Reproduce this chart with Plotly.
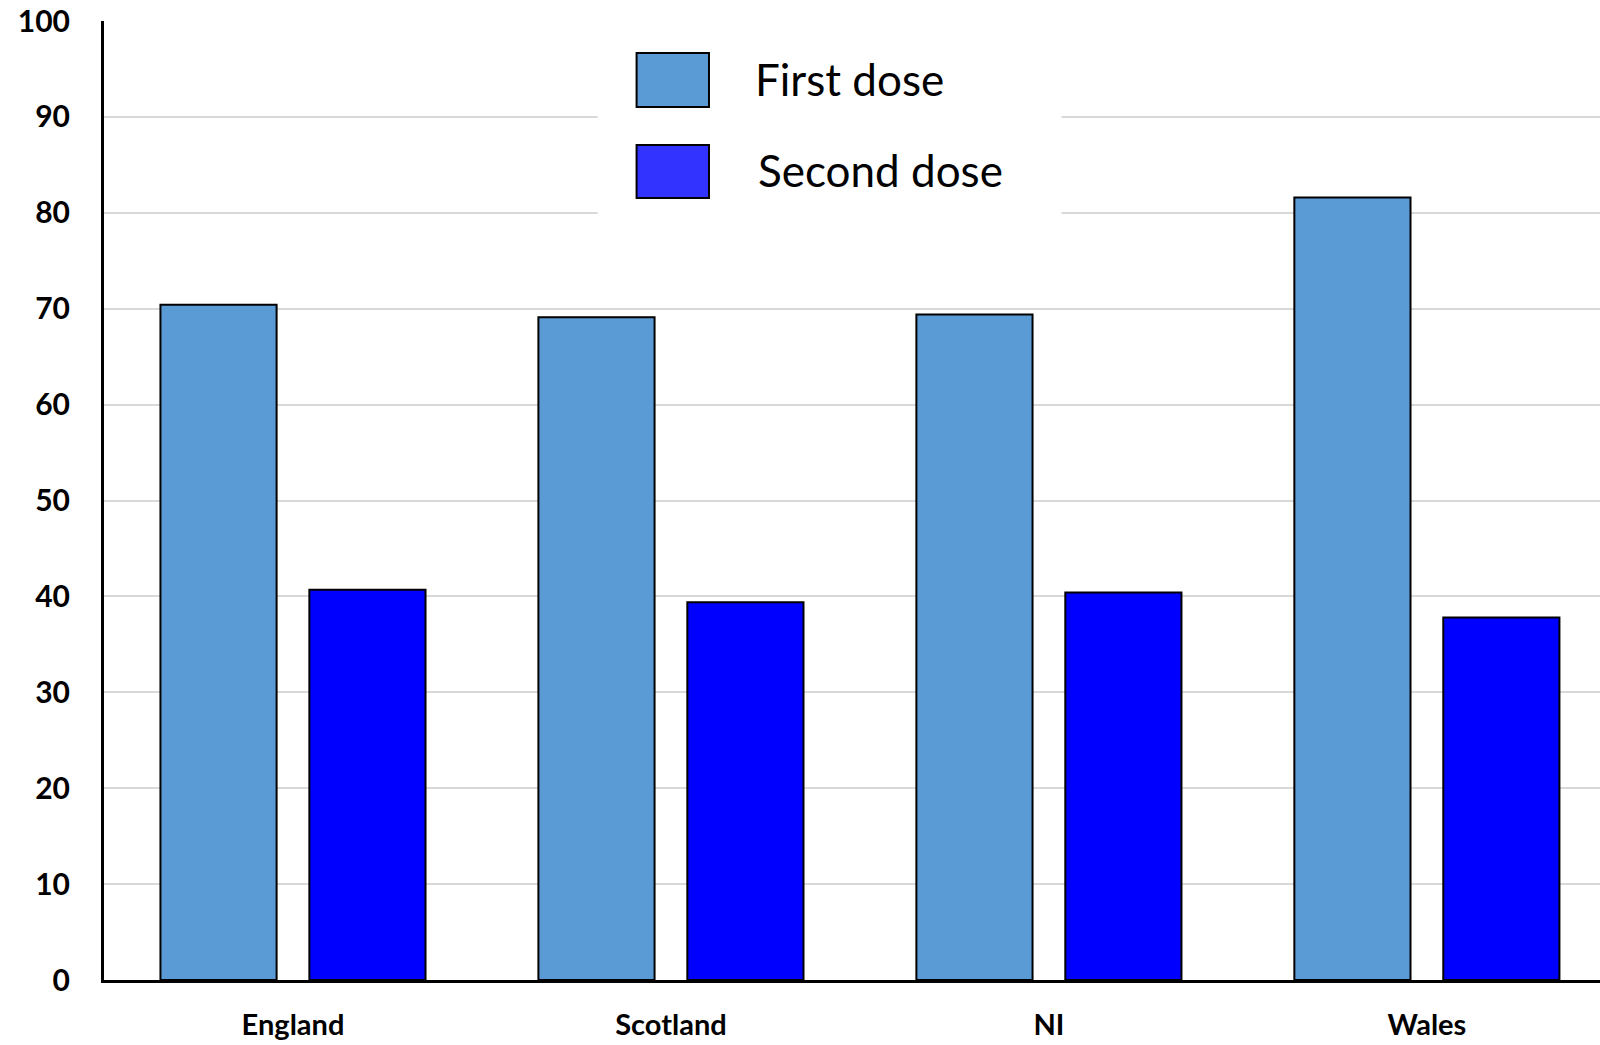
import plotly.graph_objects as go

# dados
paises = ["England", "Scotland", "NI", "Wales"]
primeira_dose = [70.4, 69.1, 69.4, 81.6]
segunda_dose = [40.7, 39.4, 40.4, 37.8]
y_ticks = [0, 10, 20, 30, 40, 50, 60, 70, 80, 90, 100]

cor1 = "#5b9bd5"
cor2 = "#0000ff"

fig = go.Figure()
fig.add_trace(go.Bar(x=paises, y=primeira_dose, name="First dose",
                     marker=dict(color=cor1, line=dict(color="black", width=2))))
fig.add_trace(go.Bar(x=paises, y=segunda_dose, name="Second dose",
                     marker=dict(color=cor2, line=dict(color="black", width=2))))

# legenda desenhada à mão (caixas grandes como no original)
shapes = [
    dict(type="rect", xref="paper", yref="paper", x0=0.330, x1=0.640, y0=0.795, y1=1.03,
         fillcolor="white", line=dict(width=0), layer="above"),
    dict(type="rect", xref="paper", yref="paper", x0=0.356, x1=0.4044, y0=0.9103, y1=0.9666,
         fillcolor=cor1, line=dict(color="black", width=2), layer="above"),
    dict(type="rect", xref="paper", yref="paper", x0=0.356, x1=0.4044, y0=0.8154, y1=0.8707,
         fillcolor="#3333ff", line=dict(color="black", width=2), layer="above"),
]
annotations = [
    dict(text="First dose", xref="paper", yref="paper", x=0.4338, y=0.939,
         xanchor="left", yanchor="middle", showarrow=False,
         font=dict(family="Lato", size=44, color="black")),
    dict(text="Second dose", xref="paper", yref="paper", x=0.4358, y=0.845,
         xanchor="left", yanchor="middle", showarrow=False,
         font=dict(family="Lato", size=44, color="black")),
]

fig.update_layout(
    width=1600, height=1045,
    margin=dict(l=104, r=0, t=21, b=65),
    paper_bgcolor="white", plot_bgcolor="white",
    barmode="group", bargap=0.212, bargroupgap=0.22,
    showlegend=False,
    shapes=shapes, annotations=annotations,
    font=dict(family="Lato", color="black"),
)
fig.update_xaxes(range=[-0.5, 3.458], showline=True, linecolor="black", linewidth=3,
                 showgrid=False, ticks="", ticklabelstandoff=17, automargin=False,
                 tickfont=dict(family="Lato", size=29, weight="bold", color="black"))
fig.update_yaxes(range=[0, 100], tickvals=y_ticks, showline=True, linecolor="black", linewidth=3,
                 showgrid=True, gridcolor="#d9d9d9", gridwidth=2, zeroline=False,
                 ticks="", ticklabelstandoff=25, ticklabeloverflow="allow", automargin=False,
                 tickfont=dict(family="Lato", size=30, weight="bold", color="black"))

# tira a margem de 8px do body para o gráfico ocupar a janela toda
fig.write_html("out.html", config={"displayModeBar": False},
               post_script="document.body.style.margin='0';")
